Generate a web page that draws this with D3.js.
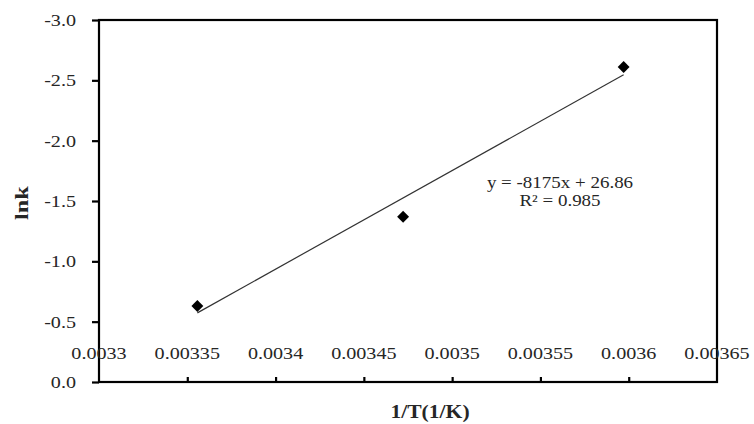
<!DOCTYPE html>
<html><head><meta charset="utf-8">
<script src="https://cdn.jsdelivr.net/npm/d3@7"></script>
<style>body{margin:0;background:#fff}</style>
</head><body>
<svg id="c" width="754" height="424"></svg>
<script>
const xValues = [1/298, 1/288, 1/278];
const yValues = [-0.63, -1.37, -2.61];
const xTicks = [0.0033, 0.00335, 0.0034, 0.00345, 0.0035, 0.00355, 0.0036, 0.00365];
const xTickLabels = ["0.0033","0.00335","0.0034","0.00345","0.0035","0.00355","0.0036","0.00365"];
const yTicks = [0, -0.5, -1.0, -1.5, -2.0, -2.5, -3.0];
const trendSlope = -8175, trendIntercept = 26.86;
const eqText = "y = -8175x + 26.86", r2Text = "R² = 0.985";

const svg = d3.select("#c");
const L = 99, R = 717, T = 20, B = 382;
const x = d3.scaleLinear().domain([0.0033, 0.00365]).range([L, R]);
const y = d3.scaleLinear().domain([0, -3]).range([B, T]);
const font = "'Liberation Serif','Times New Roman',serif";
const col = "#262626";
const SX = 1.15;

// plot border
svg.append("rect").attr("x", L).attr("y", T).attr("width", R - L).attr("height", B - T)
  .attr("fill", "none").attr("stroke", "#000").attr("stroke-width", 2.2);

// y axis ticks (outward)
const ya = svg.append("g").attr("transform", `translate(${L},0)`)
  .call(d3.axisLeft(y).tickValues(yTicks).tickSize(7).tickFormat(""));
ya.select(".domain").remove();
ya.selectAll("line").attr("stroke", "#000").attr("stroke-width", 2.2);

// y tick labels
svg.append("g").selectAll("text").data(yTicks).join("text")
  .attr("transform", d => `translate(76,${y(d) + 6}) scale(${SX},1)`)
  .attr("text-anchor", "end").attr("font-family", font).attr("font-size", 17.5).attr("fill", col)
  .text(d => d.toFixed(1));

// x axis: ticks inward from bottom
const xa = svg.append("g").attr("transform", `translate(0,${B})`)
  .call(d3.axisTop(x).tickValues(xTicks.slice(1, -1)).tickSize(5).tickFormat(""));
xa.select(".domain").remove();
xa.selectAll("line").attr("stroke", "#000").attr("stroke-width", 2.2);

// x tick labels (drawn above the bottom axis, as in reference)
svg.append("g").selectAll("text").data(xTicks).join("text")
  .attr("transform", d => `translate(${x(d)},359) scale(${SX},1)`)
  .attr("text-anchor", "middle").attr("font-family", font).attr("font-size", 17.5).attr("fill", col)
  .text((d, i) => xTickLabels[i]);

// trendline
const tx = d3.extent(xValues);
svg.append("line")
  .attr("x1", x(tx[0])).attr("y1", y(trendSlope * tx[0] + trendIntercept))
  .attr("x2", x(tx[1])).attr("y2", y(trendSlope * tx[1] + trendIntercept))
  .attr("stroke", "#333").attr("stroke-width", 1.2);

// markers
svg.append("g").selectAll("path").data(xValues).join("path")
  .attr("transform", (d, i) => `translate(${x(d)},${y(yValues[i])}) rotate(45)`)
  .attr("d", "M-4.2,-4.2L4.2,-4.2L4.2,4.2L-4.2,4.2Z").attr("fill", "#000");

// equation
svg.append("text").attr("transform", `translate(560,188) scale(${SX},1)`).attr("text-anchor", "middle")
  .attr("font-family", font).attr("font-size", 16.5).attr("fill", col).text(eqText);
svg.append("text").attr("transform", `translate(560,206) scale(${SX},1)`).attr("text-anchor", "middle")
  .attr("font-family", font).attr("font-size", 16.5).attr("fill", col).text(r2Text);

// axis titles
svg.append("text").attr("transform", `translate(430,418) scale(1.2,1)`).attr("text-anchor", "middle")
  .attr("font-family", font).attr("font-size", 18).attr("font-weight", "bold").attr("fill", col).text("1/T(1/K)");
svg.append("text").attr("transform", "translate(28,203) rotate(-90) scale(1.35,1)").attr("text-anchor", "middle")
  .attr("font-family", font).attr("font-size", 18).attr("font-weight", "bold").attr("fill", col).text("lnk");
</script>
</body></html>
